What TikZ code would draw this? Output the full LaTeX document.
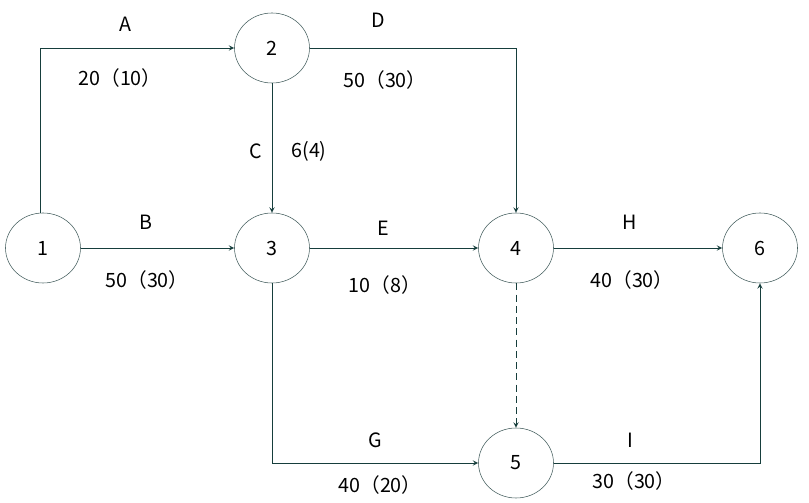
\documentclass[tikz,border=0pt]{standalone}
\usepackage{fontspec}
\newfontfamily\cjk{Noto Sans CJK SC}
\usepackage{xcolor}
\usepackage{tikz}
\usetikzlibrary{shapes.geometric,arrows,positioning}
\definecolor{edgeteal}{RGB}{22, 62, 60}
\definecolor{ringgray}{RGB}{70, 95, 95}

\begin{document}
\begin{tikzpicture}[x=0.025cm, y=-0.025cm, >=stealth,
    event/.style={draw=ringgray, ellipse, minimum width=75*0.025cm, minimum height=70*0.025cm, inner sep=0pt, font=\cjk\fontsize{14}{16}\selectfont},
    job/.style={draw=edgeteal, line width=0.7pt, ->},
    lbl/.style={font=\cjk\fontsize{14}{16}\selectfont, text=black}]
        \useasboundingbox (0,0) rectangle (809,503);

        % Events
        \node[event] (n1) at (43,248) {1};
        \node[event] (n2) at (272,48) {2};
        \node[event] (n3) at (272,248) {3};
        \node[event] (n4) at (516,248) {4};
        \node[event] (n5) at (516,463) {5};
        \node[event] (n6) at (760,248) {6};

        % Activities
        \draw[job] (n1.north -| 40,0) |- (n2.west);
        \draw[job] (n2.east) -| (n4.north);
        \draw[job] (n2) -- (n3);
        \draw[job] (n1) -- (n3);
        \draw[job] (n3) -- (n4);
        \draw[job] (n4) -- (n6);
        \draw[job] (n3.south) |- (n5.west);
        \draw[job] (n5.east) -| (n6.south);
        \draw[job, dashed, dash pattern=on 5pt off 3pt] (n4) -- (n5);

        % Labels
        \node[lbl] (la) at (125,24) {A};
        \node[lbl] (ta) at (120,78) {20（10）};
        \node[lbl] (ld) at (378,20) {D};
        \node[lbl] (td) at (385,80) {50（30）};
        \node[lbl] (lc) at (256,151) {C};
        \node[lbl] (tc) at (309,151) {6(4)};
        \node[lbl] (lb) at (146,222) {B};
        \node[lbl] (tb) at (147,280) {50（30）};
        \node[lbl] (le) at (383,228) {E};
        \node[lbl] (te) at (385,285) {10（8）};
        \node[lbl] (lh) at (630,222) {H};
        \node[lbl] (th) at (632,280) {40（30）};
        \node[lbl] (lg) at (375,440) {G};
        \node[lbl] (tg) at (380,485) {40（20）};
        \node[lbl] (li) at (630,440) {I};
        \node[lbl] (ti) at (634,481) {30（30）};
    \end{tikzpicture}
\end{document}
